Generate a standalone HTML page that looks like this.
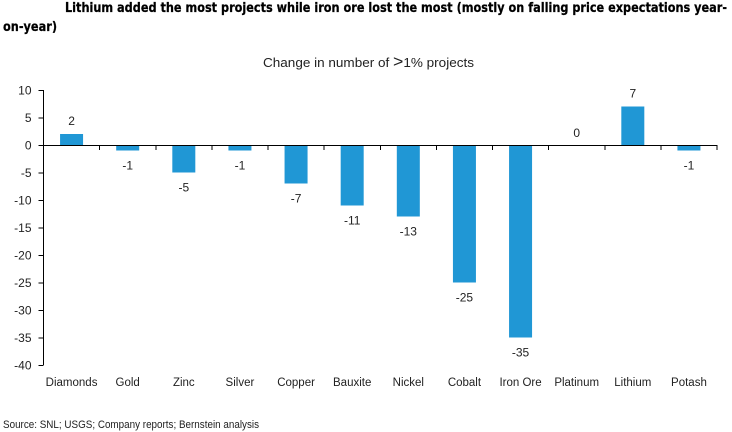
<!DOCTYPE html>
<html>
<head>
<meta charset="utf-8">
<style>
html,body{margin:0;padding:0;background:#fff;width:732px;height:432px;overflow:hidden}
svg{display:block}
text{font-family:"Liberation Sans",sans-serif;fill:#222}
</style>
</head>
<body>
<svg id="chart" width="732" height="432" viewBox="0 0 732 432" xmlns="http://www.w3.org/2000/svg">
<text x="65" y="12" textLength="662" lengthAdjust="spacingAndGlyphs" style="font-family:'DejaVu Sans',sans-serif;font-weight:bold;font-size:13px;fill:#000;stroke:#000;stroke-width:0.25px">Lithium added the most projects while iron ore lost the most (mostly on falling price expectations year-</text>
<text x="3" y="31" textLength="54" lengthAdjust="spacingAndGlyphs" style="font-family:'DejaVu Sans',sans-serif;font-weight:bold;font-size:13px;fill:#000;stroke:#000;stroke-width:0.25px">on-year)</text>
<text x="263" y="67" font-size="13" textLength="211" lengthAdjust="spacingAndGlyphs">Change in number of <tspan font-size="17">&gt;</tspan>1% projects</text>
<g id="bars"></g>
<g id="axes" shape-rendering="crispEdges"></g>
<g id="labels"></g>
<text x="3" y="428" font-size="11" textLength="256" lengthAdjust="spacingAndGlyphs">Source: SNL; USGS; Company reports; Bernstein analysis</text>
</svg>
<script>
const categories = ["Diamonds","Gold","Zinc","Silver","Copper","Bauxite","Nickel","Cobalt","Iron Ore","Platinum","Lithium","Potash"];
const projectChange = [2,-1,-5,-1,-7,-11,-13,-25,-35,0,7,-1];
const yTicks = [10,5,0,-5,-10,-15,-20,-25,-30,-35,-40];

const NS = "http://www.w3.org/2000/svg";
const plotLeft = 43.5, plotRight = 717;
const yTop = 90, yBottom = 365, yMax = 10, yMin = -40;
const barWidth = 23;
const step = (plotRight - plotLeft) / categories.length;
const xScale = i => plotLeft + step * (i + 0.5);
const yScale = v => yTop + (yMax - v) / (yMax - yMin) * (yBottom - yTop);

function make(tag, attrs, parent, text) {
  const el = document.createElementNS(NS, tag);
  for (const k in attrs) el.setAttribute(k, attrs[k]);
  if (text !== undefined) el.textContent = text;
  parent.appendChild(el);
  return el;
}

const barsG = document.getElementById("bars");
const axesG = document.getElementById("axes");
const labelsG = document.getElementById("labels");

projectChange.forEach((v, i) => {
  const y0 = yScale(0), yv = yScale(v);
  const bar = make("rect", {x: xScale(i) - barWidth / 2, y: Math.min(y0, yv), width: barWidth, height: Math.abs(yv - y0), fill: "#2097d5"}, barsG);
  
  

  const labelY = v > 0 ? yv - 9 : (v === 0 ? yv - 8 : yv + 19);
  const valueLabel = make("text", {x: xScale(i), y: labelY, "text-anchor": "middle", "font-size": 12}, labelsG, String(v));
  
  

  const catLabel = make("text", {x: xScale(i), y: 386, "text-anchor": "middle", "font-size": 11.5}, labelsG, categories[i]);
  
  
});

const yAxis = make("line", {x1: plotLeft, x2: plotLeft, y1: yScale(yMax), y2: yScale(yMin), stroke: "#000", "stroke-width": 1}, axesG);



const xAxis = make("line", {x1: plotLeft, x2: plotRight, y1: yScale(0) + 0.5, y2: yScale(0) + 0.5, stroke: "#000", "stroke-width": 1}, axesG);



yTicks.forEach(t => {
  const y = yScale(t) + 0.5;
  const tick = make("line", {x1: plotLeft - 5, x2: plotLeft, y1: y, y2: y, stroke: "#000", "stroke-width": 1}, axesG);
  
  

  const tickLabel = make("text", {x: 31.5, y: y + 4, "text-anchor": "end", "font-size": 12}, labelsG, String(t));
  
  
});

for (let i = 1; i <= categories.length; i++) {
  const x = plotLeft + step * i;
  const tick = make("line", {x1: x, x2: x, y1: yScale(0), y2: yScale(0) + 5, stroke: "#000", "stroke-width": 1}, axesG);
  
  
}
</script>
</body>
</html>
